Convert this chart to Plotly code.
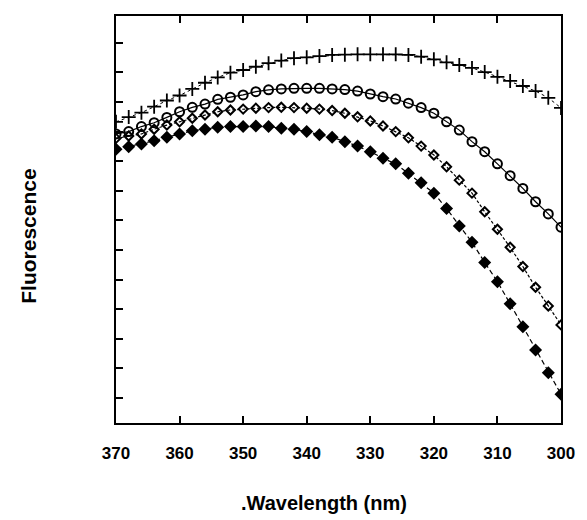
import plotly.graph_objects as go

wavelength = [370, 368, 366, 364, 362, 360, 358, 356, 354, 352, 350, 348, 346, 344, 342, 340, 338, 336,
              334, 332, 330, 328, 326, 324, 322, 320, 318, 316, 314, 312, 310, 308, 306, 304, 302, 300]

plus_series = [9.33, 9.49, 9.64, 9.84, 10.05, 10.22, 10.44, 10.65, 10.83, 10.99, 11.08, 11.19, 11.31, 11.40,
               11.48, 11.51, 11.55, 11.59, 11.60, 11.61, 11.61, 11.61, 11.61, 11.59, 11.53, 11.44, 11.34,
               11.25, 11.15, 11.01, 10.85, 10.71, 10.54, 10.37, 10.14, 9.80]

circle_series = [8.92, 9.00, 9.17, 9.30, 9.48, 9.67, 9.82, 9.93, 10.09, 10.16, 10.24, 10.35, 10.41, 10.44,
                 10.46, 10.46, 10.46, 10.44, 10.42, 10.37, 10.27, 10.18, 10.10, 9.96, 9.81, 9.62, 9.33,
                 9.05, 8.66, 8.32, 7.91, 7.51, 7.08, 6.63, 6.22, 5.77]

open_diamond_series = [8.77, 8.85, 8.92, 9.08, 9.22, 9.33, 9.45, 9.56, 9.67, 9.73, 9.76, 9.79, 9.81, 9.82,
                       9.81, 9.79, 9.76, 9.71, 9.62, 9.50, 9.36, 9.19, 9.00, 8.79, 8.51, 8.21, 7.81,
                       7.36, 6.92, 6.29, 5.70, 5.09, 4.44, 3.74, 3.11, 2.47]

filled_diamond_series = [8.40, 8.49, 8.58, 8.69, 8.81, 8.92, 9.03, 9.08, 9.15, 9.17, 9.17, 9.19, 9.17, 9.11,
                         9.08, 9.00, 8.89, 8.81, 8.66, 8.51, 8.32, 8.10, 7.91, 7.59, 7.27, 6.92, 6.40,
                         5.81, 5.26, 4.58, 3.93, 3.18, 2.41, 1.62, 0.85, 0.13]

x_ticks = [370, 360, 350, 340, 330, 320, 310, 300]
y_ticks = list(range(0, 13))

fig = go.Figure()

fig.add_trace(go.Scatter(
    x=wavelength, y=plus_series, mode="lines+markers",
    line=dict(color="black", width=1, dash="dot"),
    marker=dict(symbol="cross-thin-open", size=10, color="black", line=dict(color="black", width=1.8)),
    showlegend=False))

fig.add_trace(go.Scatter(
    x=wavelength, y=circle_series, mode="lines+markers",
    line=dict(color="black", width=1.2),
    marker=dict(symbol="circle-open", size=9, color="black", line=dict(color="black", width=2)),
    showlegend=False))

fig.add_trace(go.Scatter(
    x=wavelength, y=open_diamond_series, mode="lines+markers",
    line=dict(color="black", width=1.2, dash="3px,2px"),
    marker=dict(symbol="diamond-open", size=7, color="black", line=dict(color="black", width=2)),
    showlegend=False))

fig.add_trace(go.Scatter(
    x=wavelength, y=filled_diamond_series, mode="lines+markers",
    line=dict(color="black", width=1.2, dash="5px,3px"),
    marker=dict(symbol="diamond", size=10, color="black"),
    showlegend=False))

fig.update_layout(
    width=587, height=520,
    margin=dict(l=116, r=17, t=16, b=97),
    paper_bgcolor="white", plot_bgcolor="white",
    font=dict(family="Liberation Sans, Arial, sans-serif", color="black"),
    xaxis=dict(
        range=[370, 300], tickmode="array", tickvals=x_ticks, ticktext=[str(v) for v in x_ticks],
        ticks="inside", ticklen=7, tickwidth=1.5, tickcolor="black",
        showline=True, linecolor="black", linewidth=2, mirror="ticks",
        showgrid=False, zeroline=False,
        tickfont=dict(size=17, family="Liberation Sans, Arial, sans-serif", weight="bold"),
        ticklabelstandoff=14,
    ),
    yaxis=dict(
        range=[-0.845, 12.905], tickmode="array", tickvals=y_ticks, showticklabels=False,
        ticks="inside", ticklen=7, tickwidth=1.5, tickcolor="black",
        showline=True, linecolor="black", linewidth=2, mirror=True,
        showgrid=False, zeroline=False,
    ),
    annotations=[
        dict(text="<b>Fluorescence</b>", xref="paper", yref="paper", x=(26 - 116) / 454, y=(423 - 236) / 407,
             showarrow=False, textangle=-90, font=dict(size=21), xanchor="center", yanchor="middle"),
        dict(text="<b>.Wavelength (nm)</b>", xref="paper", yref="paper", x=(328 - 116) / 454, y=(423 - 503) / 407,
             showarrow=False, font=dict(size=20), xanchor="center", yanchor="middle"),
    ],
)

fig.write_html("out.html")
